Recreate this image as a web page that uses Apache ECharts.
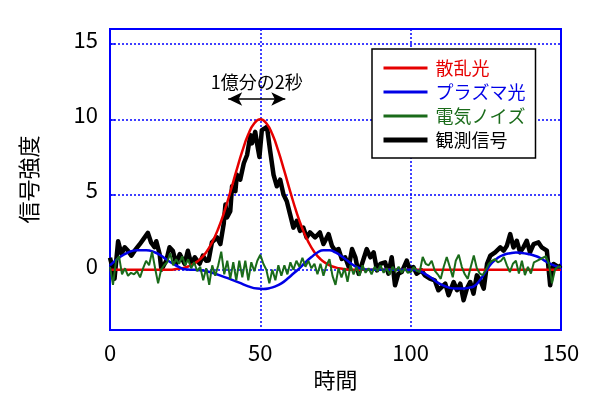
<!DOCTYPE html>
<html><head><meta charset="utf-8">
<script src="https://cdn.jsdelivr.net/npm/echarts@6/dist/echarts.min.js"></script>
<style>html,body{margin:0;padding:0;background:#fff}#c{width:600px;height:398px}</style>
</head><body><div id="c"></div>
<script>
const xTicks = [0, 50, 100, 150];
const yTicks = [0, 5, 10, 15];
const seriesNames = ['散乱光', 'プラズマ光', '電気ノイズ', '観測信号'];
const annotationText = '1億分の2秒';
const arrowFromTo = [[39.3, 11.35], [58.3, 11.35]];

// 散乱光 (red): [time, value]
const scatter = [[0,0],[20,0],[22,0.05],[24,0.11],[26,0.22],[28,0.41],[30,0.71],[32,1.17],[34,1.84],[36,2.73],[38,3.85],[40,5.16],[42,6.55],[44,7.88],[46,9.0],[48,9.74],[50,10],[52,9.74],[54,9.0],[56,7.88],[58,6.55],[60,5.16],[62,3.85],[64,2.73],[66,1.84],[68,1.17],[70,0.71],[72,0.41],[74,0.22],[76,0.11],[78,0.05],[80,0],[150,0]];

// プラズマ光 (blue)
const plasma = [[0,0.3],[3,0.8],[6,1.15],[9,1.3],[12,1.3],[15,1.15],[17,0.94],[19,0.65],[21,0.4],[23,0.18],[25,0.03],[28,0],[31,-0.05],[34,-0.2],[37,-0.4],[40,-0.62],[43,-0.85],[46,-1.1],[49,-1.25],[51,-1.27],[53,-1.22],[55,-1.1],[57,-0.9],[59,-0.6],[61,-0.25],[63,0.1],[65,0.5],[67,0.85],[69,1.15],[71,1.3],[73,1.3],[75,1.15],[77,0.9],[79,0.6],[81,0.3],[83,0.1],[85,0.02],[88,0],[100,0],[103,-0.1],[105,-0.3],[107,-0.55],[109,-0.85],[111,-1.05],[113,-1.2],[115,-1.25],[117,-1.25],[119,-1.2],[121,-1.1],[123,-0.7],[125,-0.1],[127,0.45],[129,0.8],[131,1.0],[133,1.1],[135,1.15],[137,1.12],[139,1.05],[141,0.95],[143,0.8],[145,0.55],[147,0.35],[149,0.2],[150,0.15]];

// 電気ノイズ (green), one value per time step 0..150
const noise = [0.2,-1.0,0.6,0.9,-0.3,0.1,-0.4,-0.2,-0.3,-0.1,
 -0.5,0.1,0.6,0.3,1.2,0.1,-0.9,0.0,0.3,0.5,
 1.1,0.3,0.7,0.4,0.9,0.3,0.7,0.1,0.5,-0.1,
 0.2,-0.7,0.1,-1.0,0.3,-0.4,0.3,1.2,-0.3,0.6,
 -0.6,0.5,-0.7,0.6,-0.5,0.6,-0.7,0.5,-0.1,0.6,
 1.0,0.4,0.0,-0.9,0.0,-0.7,0.3,-0.4,0.3,-0.3,
 0.5,0.0,0.6,0.2,0.8,0.2,0.6,0.1,0.4,-0.3,
 0.4,-0.4,0.3,0.7,-0.4,-1.0,0.1,-0.5,0.1,-0.8,
 0.3,-0.3,0.2,-0.4,0.3,-0.2,0.1,-0.3,0.2,-0.1,
 0.3,-0.2,0.1,-0.3,0.2,-0.1,0.2,-0.2,0.1,-0.2,
 -0.15,0.18,-0.05,-0.15,0.85,0.4,0.3,0.6,-0.05,-0.3,
 -0.6,0.2,0.85,0.2,-0.5,0.6,1.0,0.2,-0.3,-0.6,
 0.2,0.95,0.1,-0.25,-0.35,0.0,0.4,0.6,0.7,0.5,
 0.6,0.85,0.3,-0.15,0.4,0.6,-0.25,0.6,-0.35,0.2,
 -0.25,0.5,0.6,0.7,0.8,0.9,0.4,-0.9,0.0,0.2,
 0.2];

// 観測信号 (black): [time, value]
const observed = [[0,0.8],[1,0],[1.5,-0.6],[2.7,1.9],[3.8,1.05],[4.9,1.5],[6,1.27],[7.1,0.94],[8.2,1.27],[9.9,1.7],[11,2.0],[12.6,2.45],[13.7,1.8],[14.8,1.5],[15.4,1.9],[16.5,1.05],[17.1,0],[18.7,0.6],[19.8,1.5],[20.9,1.27],[22,0.4],[23.2,1.05],[24.8,0.4],[25.9,1.27],[27,0.4],[28.2,0.83],[29.8,0.4],[30.9,0.94],[32,0.6],[32.8,0.62],[33.9,1.82],[35.6,2.15],[36.7,1.71],[37.8,3.03],[38.4,4.34],[38.9,3.47],[40,3.9],[40.6,5.55],[41.7,5.22],[42.2,6.31],[43.3,5.99],[44.5,7.08],[45.6,7.63],[46.7,8.95],[47.2,8.4],[48.3,9.17],[48.9,8.4],[49.7,7.5],[50.5,9.28],[51.4,9.39],[52.2,9.5],[53.3,7.85],[54.4,6.31],[55.5,5.55],[56.6,5.99],[57.7,5.0],[58.8,4.56],[59.9,3.68],[61,2.8],[62.1,3.25],[63.2,2.59],[64.3,2.8],[65.4,2.15],[66.5,2.48],[68.2,2.15],[69.8,2.48],[71,1.71],[72.7,2.37],[73.8,1.6],[74.9,1.27],[76,1.38],[77.1,0.72],[78.2,0.83],[79.4,0.18],[80.5,1.38],[81.6,0.83],[82.7,-0.26],[83.8,0.39],[85.4,1.38],[86.6,0.83],[87.7,1.16],[88.8,-0.04],[89.9,0.39],[91.5,0.5],[92.6,-0.26],[93.7,0.83],[94.8,-1.03],[95.9,-0.26],[97,-0.15],[98.7,0.61],[99.8,-0.04],[100.9,0.18],[102,-0.26],[103.6,-0.04],[104.7,-0.37],[106.4,-0.59],[108,-0.7],[109.2,-1.36],[111.5,-0.92],[112.6,-1.69],[114.3,-0.81],[115.4,-1.36],[116.5,-0.92],[117.6,-2.02],[118.7,-1.25],[119.8,-0.81],[120.9,-1.58],[122,-0.37],[123.2,-0.7],[124.3,-1.25],[125.4,0.39],[126.5,0.94],[128.1,1.16],[129.8,1.49],[130.9,1.27],[132,1.6],[133.1,2.37],[134.2,1.49],[135.3,1.93],[136.4,1.16],[137.5,1.49],[138.6,1.93],[139.7,1.16],[140.9,1.71],[142.5,1.82],[143.6,1.49],[145.3,1.27],[146.4,-1.03],[147.5,0.39],[149.2,0.18],[150,0.3]];

const colors = { red: '#e60000', blue: '#0000e6', green: '#1a6b1a', black: '#000000', frame: '#0000ff' };
const FONT = '"Noto Sans CJK JP", "DejaVu Sans", sans-serif';

const noiseData = noise.map((v, i) => [i, v]);

const chart = echarts.init(document.getElementById('c'), null, { renderer: 'canvas' });
chart.setOption({
  animation: false,
  backgroundColor: '#fff',
  textStyle: { fontFamily: FONT },
  grid: { left: 110, right: 39, top: 29, bottom: 68, show: true, borderColor: colors.frame, borderWidth: 2, backgroundColor: 'transparent' },
  legend: {
    orient: 'vertical', left: 372, top: 49,
    backgroundColor: '#fff', borderColor: '#000', borderWidth: 1.5, borderRadius: 0,
    padding: [9, 10, 8, 9], itemWidth: 44, itemHeight: 14, itemGap: 4,
    itemStyle: { opacity: 0 },
    textStyle: { fontSize: 18, lineHeight: 20, fontFamily: FONT, padding: [0, 0, 0, 3] },
    data: [
      { name: seriesNames[0], textStyle: { color: colors.red }, lineStyle: { width: 3, color: colors.red } },
      { name: seriesNames[1], textStyle: { color: colors.blue }, lineStyle: { width: 3, color: colors.blue } },
      { name: seriesNames[2], textStyle: { color: colors.green }, lineStyle: { width: 3, color: colors.green } },
      { name: seriesNames[3], textStyle: { color: colors.black }, lineStyle: { width: 5, color: colors.black } }
    ]
  },
  xAxis: {
    type: 'value', min: xTicks[0], max: xTicks[xTicks.length - 1], interval: 50,
    axisLine: { show: false },
    axisTick: { show: true, inside: true, length: 5, lineStyle: { color: colors.frame, width: 1.5 } },
    splitLine: { show: true, lineStyle: { color: colors.frame, type: [2, 2], width: 1.5 } },
    axisLabel: { fontSize: 22, color: '#000', margin: 12, fontFamily: FONT },
    name: '時間', nameLocation: 'middle', nameGap: 35,
    nameTextStyle: { fontSize: 22, color: '#000', fontFamily: FONT }
  },
  yAxis: {
    type: 'value', min: -4, max: 16,
    axisLine: { show: false },
    axisTick: { show: true, inside: true, length: 5, customValues: yTicks, lineStyle: { color: colors.frame, width: 1.5 } },
    splitLine: { show: true, lineStyle: { color: colors.frame, type: [2, 2], width: 1.5 } },
    axisLabel: { color: '#000', margin: 12, customValues: yTicks, fontFamily: FONT,
      formatter: '{a|{value}}', rich: { a: { fontSize: 22, color: '#000', fontFamily: FONT, padding: [0, 0, 9, 0] } } },
    name: '信号強度', nameLocation: 'middle', nameGap: 70,
    nameTextStyle: { fontSize: 22, color: '#000', fontFamily: FONT }
  },
  series: [
    { name: seriesNames[3], type: 'line', data: observed, symbol: 'none', z: 2,
      lineStyle: { color: colors.black, width: 4.5, join: 'round' }, itemStyle: { color: colors.black } },
    { name: seriesNames[0], type: 'line', data: scatter, symbol: 'none', smooth: true, z: 3,
      lineStyle: { color: colors.red, width: 2.5 }, itemStyle: { color: colors.red },
      markLine: {
        silent: true, symbol: ['arrow', 'arrow'], symbolSize: [10, 14], animation: false,
        lineStyle: { color: '#000', type: 'solid', width: 1.5 },
        label: { show: true, position: 'middle', formatter: annotationText, fontSize: 18, color: '#000', distance: 8, fontFamily: FONT },
        data: [[{ coord: arrowFromTo[0] }, { coord: arrowFromTo[1] }]]
      } },
    { name: seriesNames[1], type: 'line', data: plasma, symbol: 'none', smooth: true, z: 4,
      lineStyle: { color: colors.blue, width: 2.5 }, itemStyle: { color: colors.blue } },
    { name: seriesNames[2], type: 'line', data: noiseData, symbol: 'none', z: 5,
      lineStyle: { color: colors.green, width: 2 }, itemStyle: { color: colors.green } }
  ]
});
</script></body></html>
